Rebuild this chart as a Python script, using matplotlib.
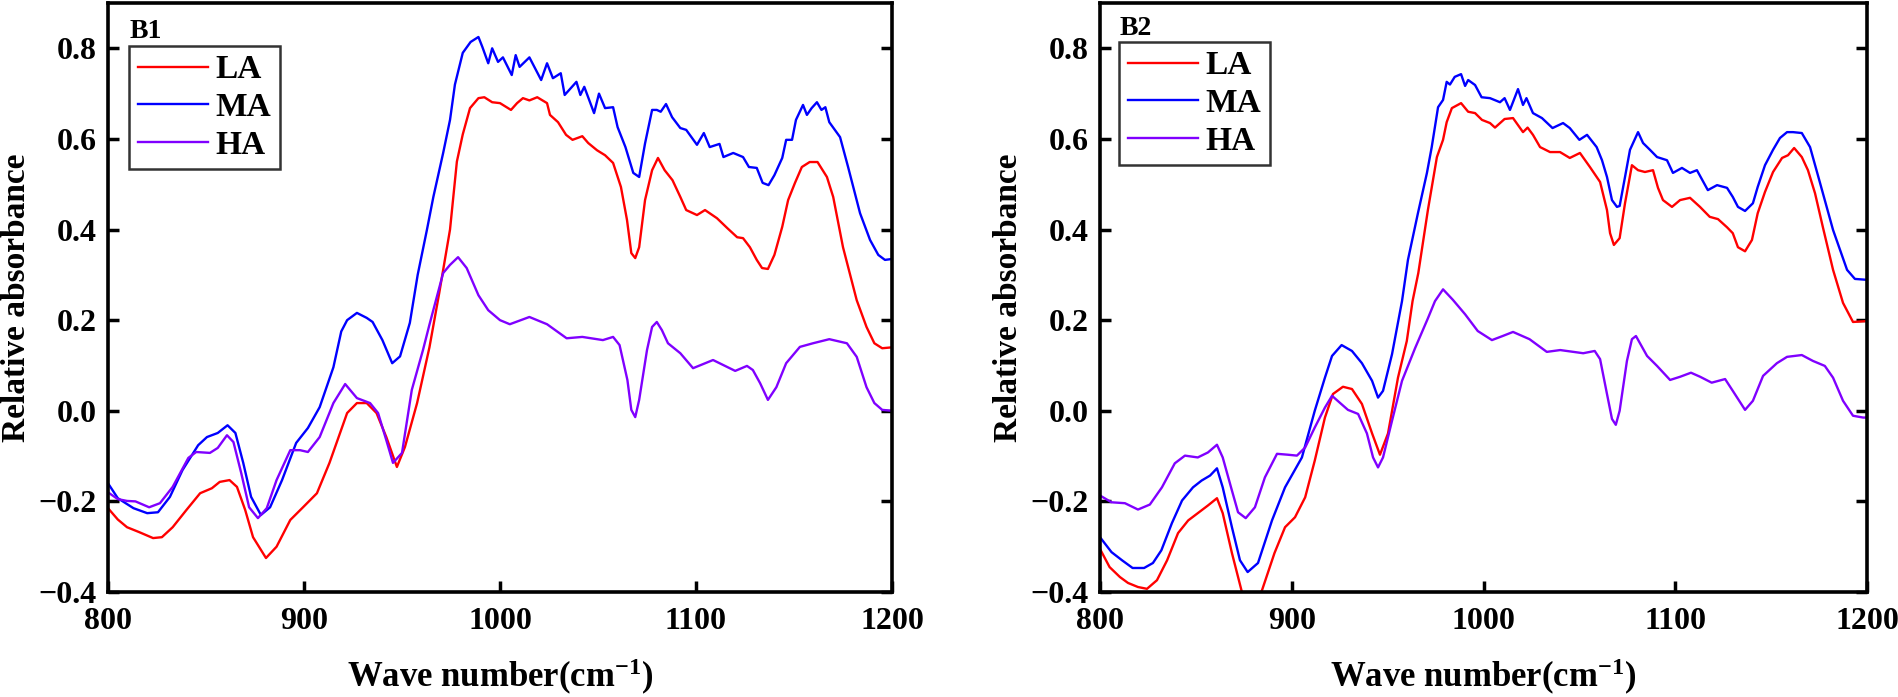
import numpy as np
import matplotlib
matplotlib.use("Agg")
import matplotlib.pyplot as plt

plt.rcParams['font.family'] = ['Liberation Serif', 'DejaVu Serif']
plt.rcParams['font.weight'] = 'bold'
plt.rcParams['mathtext.fontset'] = 'custom'
plt.rcParams['mathtext.rm'] = 'Liberation Serif:bold'
plt.rcParams['mathtext.bf'] = 'Liberation Serif:bold'
plt.rcParams['mathtext.default'] = 'rm'

# ---- panel B1 ----
b1_la_x = [800, 805, 809.7, 816, 823, 827.5, 833, 840, 847, 853, 857, 862, 865.8, 870, 874, 880.6, 886, 893,
           899.5, 906.6, 913, 922, 927, 932, 937, 942, 947.4, 951.5, 957.7, 964, 969, 974.5, 978, 981, 984.7,
           989, 992, 996, 1000, 1005.6, 1008.7, 1011.7, 1015, 1019, 1024, 1025.5, 1029.6, 1033.7, 1037, 1042,
           1045, 1049.5, 1053.6, 1057.7, 1061.7, 1064.8, 1067, 1069, 1071, 1074, 1077.6, 1080.6, 1084, 1088,
           1092, 1095, 1100.5, 1104.6, 1110.7, 1116, 1121, 1124, 1127.5, 1131, 1133.7, 1136.7, 1140, 1144,
           1147, 1150.5, 1154, 1158, 1162, 1166.8, 1170, 1175, 1182, 1187, 1191, 1195, 1200]
b1_la_y = [-0.215, -0.24, -0.257, -0.268, -0.281, -0.279, -0.257, -0.219, -0.182, -0.171, -0.157, -0.153, -0.168,
           -0.219, -0.279, -0.325, -0.30, -0.241, -0.213, -0.182, -0.115, -0.005, 0.017, 0.017, -0.005, -0.058,
           -0.124, -0.08, 0.017, 0.14, 0.26, 0.40, 0.55, 0.61, 0.668, 0.69, 0.692, 0.681, 0.679, 0.664, 0.679,
           0.69, 0.685, 0.692, 0.679, 0.653, 0.637, 0.609, 0.598, 0.606, 0.591, 0.575, 0.564, 0.547, 0.494,
           0.421, 0.348, 0.337, 0.361, 0.465, 0.531, 0.558, 0.531, 0.509, 0.472, 0.443, 0.432, 0.443, 0.425,
           0.403, 0.383, 0.381, 0.361, 0.333, 0.315, 0.313, 0.344, 0.406, 0.465, 0.503, 0.538, 0.549, 0.549,
           0.516, 0.472, 0.361, 0.244, 0.185, 0.149, 0.138, 0.14]

b1_ma_x = [800, 805, 813, 820, 825.5, 831.6, 838, 846, 850.5, 856, 861, 865, 869, 873, 878, 882.7, 888.8, 896,
           902, 908, 915, 919, 922, 927, 932, 935, 940, 945, 949, 954, 958, 962.7, 966, 971, 974.5, 977, 981,
           985, 989, 991, 994, 996, 999, 1001.5, 1006, 1008, 1010, 1015, 1021, 1024, 1027, 1031, 1033, 1039,
           1041, 1043, 1048, 1050.5, 1053.6, 1057.7, 1060, 1064, 1068, 1071, 1074, 1077.6, 1080, 1082, 1084.7,
           1087.8, 1092, 1095, 1100.5, 1104, 1107, 1112, 1114, 1119, 1124, 1127, 1131, 1134, 1137, 1140, 1144,
           1146, 1149, 1151, 1154.6, 1156.6, 1159, 1161.7, 1164, 1166, 1168, 1173.5, 1177.6, 1183.7, 1188.8,
           1193, 1196.4, 1200]
b1_ma_y = [-0.16, -0.193, -0.215, -0.226, -0.224, -0.19, -0.131, -0.076, -0.058, -0.049, -0.032, -0.049, -0.115,
           -0.19, -0.23, -0.213, -0.153, -0.071, -0.038, 0.008, 0.096, 0.175, 0.20, 0.216, 0.205, 0.196, 0.156,
           0.105, 0.12, 0.194, 0.30, 0.399, 0.472, 0.569, 0.642, 0.72, 0.79, 0.814, 0.825, 0.803, 0.767, 0.80,
           0.77, 0.78, 0.741, 0.785, 0.759, 0.78, 0.73, 0.767, 0.734, 0.745, 0.697, 0.726, 0.697, 0.715, 0.657,
           0.70, 0.668, 0.67, 0.626, 0.582, 0.525, 0.516, 0.59, 0.664, 0.664, 0.66, 0.677, 0.648, 0.624, 0.62,
           0.587, 0.613, 0.582, 0.589, 0.56, 0.569, 0.56, 0.538, 0.536, 0.503, 0.498, 0.52, 0.558, 0.598, 0.598,
           0.642, 0.675, 0.653, 0.668, 0.681, 0.664, 0.67, 0.637, 0.604, 0.538, 0.436, 0.377, 0.344, 0.333, 0.335]

b1_ha_x = [800, 805, 809.7, 814, 821, 826.5, 833, 841, 845, 852, 856, 860.7, 864, 868, 872, 876.5, 881, 886, 893,
           898, 902, 908, 915, 921, 927, 933.7, 937.8, 942, 945.4, 950, 955, 960.7, 964, 971, 974.5, 978.6, 983,
           989, 994, 1000, 1005, 1015, 1024, 1034, 1042, 1052.5, 1057.7, 1061, 1065, 1067, 1069, 1071, 1075,
           1077.6, 1080, 1082.6, 1085.7, 1092, 1098.5, 1108.7, 1120, 1126, 1129, 1132.7, 1136.7, 1141, 1146,
           1153, 1159.7, 1168, 1177, 1182, 1187, 1191, 1195, 1200]
b1_ha_y = [-0.18, -0.195, -0.199, -0.2, -0.213, -0.204, -0.168, -0.104, -0.091, -0.093, -0.082, -0.054, -0.069,
           -0.138, -0.213, -0.237, -0.215, -0.153, -0.087, -0.087, -0.091, -0.058, 0.017, 0.059, 0.028, 0.017,
           -0.005, -0.065, -0.115, -0.093, 0.046, 0.134, 0.19, 0.304, 0.322, 0.339, 0.315, 0.255, 0.222, 0.20,
           0.191, 0.207, 0.191, 0.16, 0.163, 0.156, 0.163, 0.145, 0.068, 0.002, -0.014, 0.024, 0.134, 0.185,
           0.196, 0.178, 0.149, 0.127, 0.094, 0.112, 0.088, 0.099, 0.09, 0.061, 0.024, 0.052, 0.105, 0.141,
           0.149, 0.158, 0.149, 0.119, 0.052, 0.017, 0.002, 0.0]

# ---- panel B2 ----
b2_la_x = [800, 805, 810.4, 814.6, 819.8, 824.5, 829.7, 835, 840.7, 846, 851, 856.3, 861, 864, 868.8, 874, 878.5,
           884.5, 891, 896.5, 901.7, 907, 912, 917.3, 921.5, 926.7, 931.4, 936.6, 941.9, 946, 950.2, 955.4, 960,
           963, 966, 971, 975.7, 978.9, 980.8, 983.5, 988.3, 992, 995.6, 999.2, 1003.4, 1006, 1011, 1015.4,
           1020.6, 1023, 1025.8, 1029.5, 1034.7, 1039.9, 1045, 1050.3, 1055.5, 1060.8, 1064.4, 1066, 1068, 1071,
           1073.8, 1077.4, 1080.6, 1084.2, 1088.4, 1091, 1093.6, 1098.3, 1102.5, 1107.7, 1112.9, 1118, 1122.3,
           1127, 1130, 1132.7, 1136.4, 1140, 1143, 1146.8, 1151, 1155.7, 1158.8, 1162, 1166, 1169.2, 1172.9,
           1177, 1182.3, 1187.5, 1192.7, 1200]
b2_la_y = [-0.305, -0.345, -0.367, -0.38, -0.389, -0.393, -0.374, -0.33, -0.27, -0.242, -0.226, -0.209, -0.193,
           -0.226, -0.314, -0.40, -0.45, -0.396, -0.314, -0.257, -0.235, -0.191, -0.11, -0.015, 0.037, 0.053,
           0.048, 0.015, -0.05, -0.097, -0.05, 0.073, 0.154, 0.242, 0.304, 0.443, 0.56, 0.598, 0.637, 0.668,
           0.679, 0.66, 0.657, 0.642, 0.635, 0.625, 0.644, 0.646, 0.615, 0.625, 0.609, 0.582, 0.571, 0.571,
           0.558, 0.569, 0.538, 0.505, 0.443, 0.392, 0.366, 0.381, 0.458, 0.542, 0.531, 0.527, 0.531, 0.492,
           0.465, 0.45, 0.465, 0.47, 0.45, 0.428, 0.423, 0.405, 0.392, 0.361, 0.352, 0.377, 0.436, 0.483, 0.527,
           0.558, 0.564, 0.58, 0.56, 0.531, 0.48, 0.405, 0.311, 0.238, 0.196, 0.198]

b2_ma_x = [800, 806, 811.5, 817, 823, 827.6, 832, 837.5, 842.8, 848.5, 853, 857.4, 861, 864, 868.8, 873, 877,
           882.4, 889.7, 896.5, 905.3, 912, 917.3, 921, 926, 931.4, 936.6, 941.9, 945, 947.6, 952.3, 957.5,
           960.6, 965.8, 970.5, 973, 976.3, 978.9, 980.8, 982.5, 985, 988.3, 990.4, 992, 995.6, 999, 1003.4,
           1008.6, 1011, 1013.8, 1018, 1020.6, 1022.4, 1025.8, 1030.5, 1036, 1041.5, 1045, 1050, 1054, 1059,
           1061.8, 1064.4, 1067, 1069.6, 1071, 1073.8, 1076.4, 1080.6, 1083.2, 1086.8, 1090.5, 1095.7, 1098.8,
           1103.5, 1107.7, 1111.3, 1117, 1121.8, 1127, 1130, 1132.7, 1136.4, 1140.5, 1143, 1146.8, 1151, 1154.6,
           1158.3, 1161.4, 1166, 1170.3, 1175.5, 1182.3, 1189.6, 1193.7, 1200]
b2_ma_y = [-0.279, -0.312, -0.33, -0.347, -0.347, -0.336, -0.308, -0.248, -0.198, -0.169, -0.154, -0.143, -0.127,
           -0.169, -0.257, -0.33, -0.356, -0.336, -0.242, -0.169, -0.103, 0.0, 0.073, 0.121, 0.145, 0.132, 0.105,
           0.066, 0.029, 0.044, 0.125, 0.242, 0.333, 0.436, 0.525, 0.582, 0.67, 0.686, 0.726, 0.72, 0.737, 0.743,
           0.717, 0.73, 0.719, 0.692, 0.69, 0.681, 0.69, 0.664, 0.71, 0.675, 0.69, 0.657, 0.646, 0.624, 0.635,
           0.624, 0.598, 0.609, 0.582, 0.553, 0.516, 0.465, 0.45, 0.452, 0.516, 0.576, 0.615, 0.591, 0.576, 0.56,
           0.553, 0.525, 0.536, 0.525, 0.531, 0.487, 0.498, 0.492, 0.472, 0.45, 0.441, 0.458, 0.494, 0.542,
           0.576, 0.602, 0.615, 0.615, 0.613, 0.582, 0.503, 0.399, 0.311, 0.291, 0.289]

b2_ha_x = [800, 806, 813, 819.8, 826, 832.3, 839, 844.3, 851, 856.3, 861, 864, 868.8, 872, 876, 880.8, 886, 892.3,
           898, 902.7, 907, 912, 917.3, 921, 925, 929.3, 934.6, 939.2, 942.4, 945, 947.6, 952.3, 957.5, 964.3,
           971, 974.7, 978.9, 984, 990.4, 997, 1004.4, 1010, 1015.4, 1024, 1033, 1040, 1052, 1058, 1060.8, 1064.4,
           1067, 1069, 1071, 1074.8, 1077.4, 1079.5, 1085.3, 1090.5, 1097.3, 1102.5, 1108.2, 1113, 1119, 1126,
           1130, 1136.4, 1140.5, 1145.8, 1153, 1158.3, 1166, 1171.8, 1178, 1182.3, 1187.5, 1192.7, 1198, 1200]
b2_ha_y = [-0.187, -0.202, -0.204, -0.218, -0.207, -0.169, -0.116, -0.099, -0.103, -0.092, -0.075, -0.103, -0.176,
           -0.224, -0.237, -0.213, -0.147, -0.095, -0.097, -0.099, -0.081, -0.037, 0.007, 0.033, 0.018, 0.002,
           -0.007, -0.05, -0.103, -0.125, -0.103, -0.022, 0.066, 0.138, 0.204, 0.242, 0.268, 0.245, 0.213, 0.176,
           0.156, 0.165, 0.174, 0.158, 0.13, 0.134, 0.127, 0.132, 0.114, 0.037, -0.018, -0.031, 0.0, 0.11, 0.158,
           0.165, 0.121, 0.099, 0.068, 0.075, 0.084, 0.075, 0.062, 0.07, 0.044, 0.002, 0.022, 0.077, 0.105,
           0.119, 0.123, 0.11, 0.099, 0.073, 0.022, -0.011, -0.015, -0.015]

labels = ['LA', 'MA', 'HA']
colors = ['#FF0000', '#0000FF', '#8000FF']
panel_names = ['B1', 'B2']
x_ticks = [800, 900, 1000, 1100, 1200]
y_ticks = [-0.4, -0.2, 0.0, 0.2, 0.4, 0.6, 0.8]

fig = plt.figure(figsize=(18.99, 6.97), dpi=100)
ax1 = fig.add_axes([108 / 1899, 105 / 697, 784 / 1899, 589 / 697])
ax2 = fig.add_axes([1100 / 1899, 105 / 697, 767 / 1899, 589 / 697])

# axes, curves, legend anchor, panel-name height, y-label x
panels = [
    (ax1, [(b1_la_x, b1_la_y), (b1_ma_x, b1_ma_y), (b1_ha_x, b1_ha_y)], (0.027, 0.927), 0.94, -0.097),
    (ax2, [(b2_la_x, b2_la_y), (b2_ma_x, b2_ma_y), (b2_ha_x, b2_ha_y)], (0.025, 0.934), 0.945, -0.099),
]

for i, (ax, series, leg_pos, name_y, ylab_x) in enumerate(panels):
    for (xs, ys), lab, col in zip(series, labels, colors):
        ax.plot(xs, ys, color=col, lw=1.7, label=lab)
    ax.set_xlim(800, 1200)
    ax.set_ylim(-0.4, 0.9)
    ax.set_xticks(x_ticks)
    ax.set_yticks(y_ticks)
    ax.set_yticklabels(['\u2212%.1f' % abs(v) if v < 0 else '%.1f' % v for v in y_ticks])
    ax.tick_params(axis='both', direction='in', length=8, width=2.5, labelsize=23,
                   right=True, top=False)
    ax.tick_params(axis='x', pad=11)
    ax.tick_params(axis='y', pad=8)
    for sp in ax.spines.values():
        sp.set_linewidth(2.6)
    for t in ax.get_xticklabels() + ax.get_yticklabels():
        t.set_fontweight('bold')
    ax.set_xlabel('Wave number(cm$^{-1}$)', fontsize=25, fontweight='bold')
    ax.set_ylabel('Relative absorbance', fontsize=24, fontweight='bold')
    ax.xaxis.set_label_coords(0.5, -0.11)
    ax.yaxis.set_label_coords(ylab_x, 0.5)
    ax.text(leg_pos[0], name_y, panel_names[i], transform=ax.transAxes, fontsize=20,
            fontweight='bold', va='baseline', ha='left')
    leg = ax.legend(loc='upper left', bbox_to_anchor=leg_pos, borderaxespad=0, fontsize=24,
                    frameon=True, fancybox=False, edgecolor='black', handlelength=2.1,
                    handletextpad=0.25, labelspacing=0.2, borderpad=0.25)
    leg.get_frame().set_linewidth(1.8)
    for t in leg.get_texts():
        t.set_fontweight('bold')

fig.savefig('out.png', dpi=100)
